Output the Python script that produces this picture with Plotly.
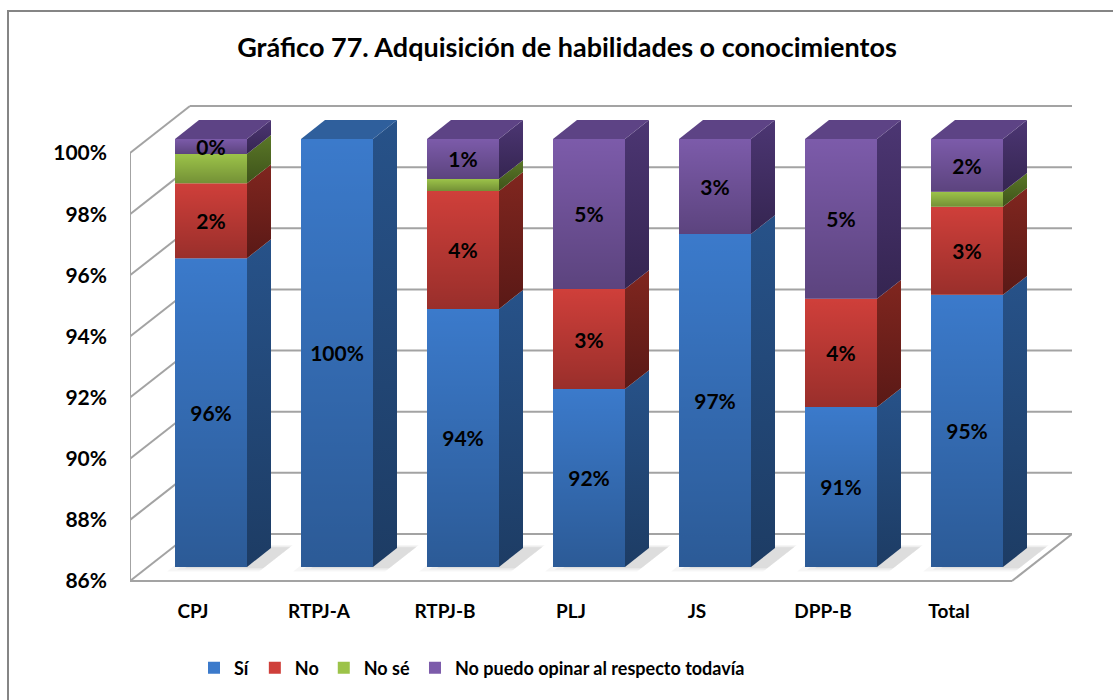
import plotly.graph_objects as go

# ---- data -------------------------------------------------------------
categories = ["CPJ", "RTPJ-A", "RTPJ-B", "PLJ", "JS", "DPP-B", "Total"]
si = [96.10, 100.0, 94.44, 91.82, 96.89, 91.23, 94.90]
no = [2.45, 0.0, 3.86, 3.27, 0.0, 3.54, 2.88]
no_se = [0.96, 0.0, 0.39, 0.0, 0.0, 0.0, 0.49]
no_opina = [0.49, 0.0, 1.31, 4.91, 3.11, 5.23, 1.73]
y_ticks = [86, 88, 90, 92, 94, 96, 98, 100]
series_names = ["Sí", "No", "No sé", "No puedo opinar al respecto todavía"]

# ---- styling ------------------------------------------------------------
FONT = "Lato"
front_colors = ["#3b7acb", "#cf3f3a", "#9cc349", "#7c5baa"]
side_colors = ["#275289", "#80261f", "#5a7727", "#4c3673"]
side_dark = ["#1d3c64", "#5a1916", "#3e531a", "#352551"]
top_colors = ["#2f5f9c", "#a0302b", "#6f8f34", "#5d4385"]
show_labels = [True, True, False, True]
SHADE = "rgba(0,0,0,0.26)"

# plot-area geometry (pixels) and pseudo-3D projection
PLOT_L, PLOT_R, PLOT_T, PLOT_B = 130, 1072, 100, 582
CAT_PX = (PLOT_R - PLOT_L) / (len(categories) + 60 / 126)
PCT_PX = 30.57
DEPTH_X = 60 / CAT_PX          # full floor depth, in category units
DEPTH_Y = 47 / PCT_PX          # full floor depth, in percent units
BAR_D0, BAR_D1 = 0.3, 0.7      # depth slab occupied by the bars
BAR_W = 72 / CAT_PX
Y_MIN = y_ticks[0]
Y_MAX = y_ticks[-1]

x_lo, x_hi = -0.5, len(categories) - 0.5
x_range = [x_lo, x_hi + DEPTH_X]
y0 = Y_MIN - 1 / PCT_PX
y_range = [y0, y0 + (PLOT_B - PLOT_T) / PCT_PX]

series_vals = [si, no, no_se, no_opina]
n_cat = len(categories)

fig = go.Figure()

# front faces of the stacked bars
bottoms = [Y_MIN] * n_cat
stack = []
for k, vals in enumerate(series_vals):
    heights = [v - Y_MIN for v in vals] if k == 0 else list(vals)
    seg_b = list(bottoms)
    seg_t = [b + h for b, h in zip(seg_b, heights)]
    stack.append((seg_b, seg_t))
    bottoms = seg_t
    texts = [f"{v:.0f}%" if (show_labels[k] and v > 0) else "" for v in vals]
    fig.add_trace(go.Bar(
        name=series_names[k],
        x=[i + BAR_D0 * DEPTH_X for i in range(n_cat)],
        y=heights,
        base=[b + BAR_D0 * DEPTH_Y for b in seg_b],
        width=BAR_W,
        marker=dict(color=front_colors[k], line=dict(width=0)),
        text=texts,
        textposition="inside",
        insidetextanchor="middle",
        constraintext="none",
        textangle=0,
        textfont=dict(family=FONT, size=21, color="black", weight="bold"),
        hoverinfo="skip",
    ))

dx = (BAR_D1 - BAR_D0) * DEPTH_X
dy = (BAR_D1 - BAR_D0) * DEPTH_Y
f0 = BAR_D0 * DEPTH_Y

def poly(xs, ys, **kw):
    fig.add_trace(go.Scatter(x=xs, y=ys, mode="lines", fill="toself",
                             line=dict(width=0), showlegend=False,
                             hoverinfo="skip", **kw))

# shading on each front segment (darker toward the bottom), then side faces
for k in range(len(series_vals)):
    seg_b, seg_t = stack[k]
    for i in range(n_cat):
        if seg_t[i] - seg_b[i] <= 0:
            continue
        xl = i + BAR_D0 * DEPTH_X - BAR_W / 2
        xr = xl + BAR_W
        b, t = seg_b[i] + f0, seg_t[i] + f0
        poly([xl, xr, xr, xl, xl], [b, b, t, t, b],
             fillgradient=dict(type="vertical",
                               colorscale=[[0, SHADE], [1, "rgba(0,0,0,0)"]]))
        poly([xr, xr, xr + dx, xr + dx, xr], [b, t, t + dy, b + dy, b],
             fillgradient=dict(type="vertical",
                               colorscale=[[0, side_dark[k]], [1, side_colors[k]]]))

# top face of the highest non-empty segment of each bar
for i in range(n_cat):
    top_k = max(j for j in range(len(series_vals)) if stack[j][1][i] - stack[j][0][i] > 0)
    t = stack[top_k][1][i] + f0
    xl = i + BAR_D0 * DEPTH_X - BAR_W / 2
    xr = xl + BAR_W
    poly([xl, xr, xr + dx, xl + dx, xl], [t, t, t + dy, t + dy, t],
         fillcolor=top_colors[top_k])

# walls, floor and soft bar shadows drawn beneath the bars
grid = dict(color="#a3a3a3", width=2)
shapes = []
for v in y_ticks:
    shapes.append(dict(type="line", xref="x", yref="y", layer="below",
                       x0=x_lo, y0=v, x1=x_lo + DEPTH_X, y1=v + DEPTH_Y, line=grid))
    shapes.append(dict(type="line", xref="x", yref="y", layer="below",
                       x0=x_lo + DEPTH_X, y0=v + DEPTH_Y, x1=x_hi + DEPTH_X, y1=v + DEPTH_Y, line=grid))
shapes.append(dict(type="line", xref="x", yref="y", layer="below",
                   x0=x_lo, y0=Y_MIN, x1=x_lo, y1=Y_MAX, line=grid))
shapes.append(dict(type="line", xref="x", yref="y", layer="below",
                   x0=x_lo, y0=Y_MIN, x1=x_hi, y1=Y_MIN, line=grid))
shapes.append(dict(type="line", xref="x", yref="y", layer="below",
                   x0=x_hi, y0=Y_MIN, x1=x_hi + DEPTH_X, y1=Y_MIN + DEPTH_Y, line=grid))

for i in range(n_cat):
    xl = i + BAR_D0 * DEPTH_X - BAR_W / 2
    xr = xl + BAR_W
    for grow, alpha in [(0.16, 0.035), (0.10, 0.045), (0.05, 0.06)]:
        d0, d1 = BAR_D0 - grow * 0.6, BAR_D1 + grow * 0.4
        path = (f"M {xl - grow + d0 * DEPTH_X},{Y_MIN + d0 * DEPTH_Y} "
                f"L {xr + d0 * DEPTH_X},{Y_MIN + d0 * DEPTH_Y} "
                f"L {xr + d1 * DEPTH_X},{Y_MIN + d1 * DEPTH_Y} "
                f"L {xl - grow + d1 * DEPTH_X},{Y_MIN + d1 * DEPTH_Y} Z")
        shapes.append(dict(type="path", xref="x", yref="y", layer="below", path=path,
                           fillcolor=f"rgba(0,0,0,{alpha})", line=dict(width=0)))

# outer chart frame
shapes.append(dict(type="rect", xref="paper", yref="paper",
                   x0=(8 - PLOT_L) / (PLOT_R - PLOT_L), x1=1.3,
                   y0=-0.5, y1=(PLOT_B - 11) / (PLOT_B - PLOT_T),
                   line=dict(color="#858585", width=2), layer="below"))

fig.update_layout(
    width=1113, height=700,
    margin=dict(l=PLOT_L, r=1113 - PLOT_R, t=PLOT_T, b=700 - PLOT_B),
    paper_bgcolor="white", plot_bgcolor="white",
    barmode="overlay",
    shapes=shapes,
    title=dict(text="Gráfico 77. Adquisición de habilidades o conocimientos",
               x=567 / 1113, xanchor="center", y=1 - 48 / 700, yanchor="middle",
               font=dict(family=FONT, size=27, color="black", weight="bold")),
    xaxis=dict(range=x_range, tickvals=list(range(n_cat)), ticktext=categories,
               showgrid=False, zeroline=False, showline=False, ticks="",
               ticklabelstandoff=16,
               tickfont=dict(family=FONT, size=19, color="black", weight="bold")),
    yaxis=dict(range=y_range, tickvals=y_ticks, ticktext=[f"{v}%" for v in y_ticks],
               showgrid=False, zeroline=False, showline=False, ticks="",
               ticklabelstandoff=22,
               tickfont=dict(family=FONT, size=21, color="black", weight="bold")),
    legend=dict(orientation="h", x=(472 - PLOT_L) / (PLOT_R - PLOT_L), xanchor="center",
                y=(PLOT_B - 668) / (PLOT_B - PLOT_T), yanchor="middle",
                font=dict(family=FONT, size=18, color="black", weight="bold"),
                itemwidth=30, traceorder="normal"),
    showlegend=True,
)

fig.write_html("out.html")
